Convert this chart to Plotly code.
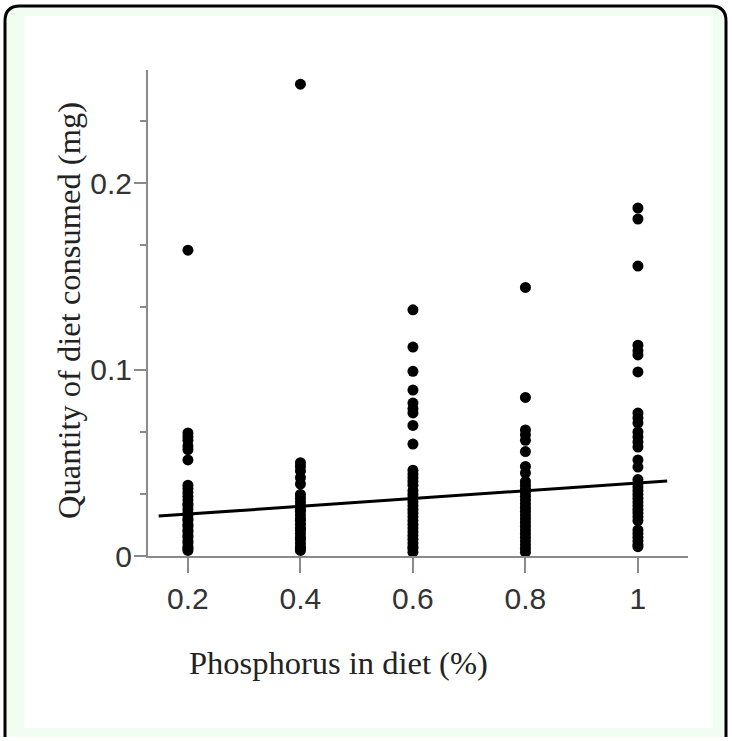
import plotly.graph_objects as go

# ---- data ----
x_levels = [0.2, 0.4, 0.6, 0.8, 1.0]

y_02 = [0.164, 0.066, 0.064, 0.062, 0.059, 0.057, 0.0515,
        0.038, 0.036, 0.034, 0.032, 0.030, 0.028, 0.027, 0.025, 0.023, 0.022,
        0.020, 0.019, 0.017, 0.016, 0.014, 0.013, 0.011, 0.010, 0.008, 0.007,
        0.005, 0.004, 0.003]
y_04 = [0.253, 0.050, 0.048, 0.0456, 0.042, 0.0386,
        0.033, 0.031, 0.029, 0.027, 0.025, 0.024, 0.022, 0.020, 0.019, 0.017,
        0.015, 0.014, 0.012, 0.010, 0.009, 0.007, 0.005, 0.004, 0.003]
y_06 = [0.132, 0.112, 0.099, 0.089, 0.082, 0.079, 0.0767, 0.070, 0.060,
        0.046, 0.044, 0.042, 0.040, 0.038, 0.035, 0.033, 0.031, 0.029, 0.027,
        0.025, 0.023, 0.021, 0.019, 0.017, 0.015, 0.013, 0.011, 0.009, 0.007,
        0.005, 0.004, 0.002]
y_08 = [0.144, 0.085, 0.0676, 0.065, 0.062, 0.056, 0.048, 0.0445,
        0.040, 0.038, 0.036, 0.034, 0.032, 0.030, 0.028, 0.026, 0.024, 0.022,
        0.020, 0.018, 0.016, 0.014, 0.012, 0.010, 0.008, 0.006, 0.004, 0.002]
y_10 = [0.1866, 0.1807, 0.1555, 0.113, 0.110, 0.1078, 0.0987, 0.0767, 0.074,
        0.0713, 0.0665, 0.0638, 0.0611, 0.0584, 0.0515, 0.0477,
        0.041, 0.039, 0.037, 0.035, 0.033, 0.031, 0.029, 0.027, 0.025, 0.023,
        0.021, 0.019, 0.014, 0.012, 0.010, 0.008, 0.006, 0.005]

fit_x = [0.148, 1.052]
fit_y = [0.0214, 0.0402]

x_ticks = [0.2, 0.4, 0.6, 0.8, 1.0]
x_ticklabels = ["0.2", "0.4", "0.6", "0.8", "1"]
y_ticks = [0, 0.1, 0.2]
y_ticklabels = ["0", "0.1", "0.2"]

x_title = "Phosphorus in diet (%)"
y_title = "Quantity of diet consumed (mg)"

# ---- layout geometry (pixels) ----
W, H = 732, 741
L, R, T, B = 148, 688, 70, 556
X_RANGE = [0.129, 1.089]
Y_RANGE = [0, (B - T) / 1865.0]


def px(x):
    return (x - L) / (R - L)


def py(y):
    return (B - y) / (B - T)


xs, ys = [], []
for xv, col in zip(x_levels, [y_02, y_04, y_06, y_08, y_10]):
    xs += [xv] * len(col)
    ys += col

fig = go.Figure()
fig.add_trace(go.Scatter(
    x=xs, y=ys, mode="markers",
    marker=dict(color="black", size=11, line=dict(width=0)),
    showlegend=False, hoverinfo="skip"))
fig.add_trace(go.Scatter(
    x=fit_x, y=fit_y, mode="lines",
    line=dict(color="black", width=3),
    showlegend=False, hoverinfo="skip"))

# frame: green band with black rounded border (bottom cut off)
r = 15
bl, bt, br, bb = 5, 6, 726, 737
green_path = (f"M {px(bl)},{py(bb)} L {px(bl)},{py(bt + r)} "
              f"Q {px(bl)},{py(bt)} {px(bl + r)},{py(bt)} "
              f"L {px(br - r)},{py(bt)} Q {px(br)},{py(bt)} {px(br)},{py(bt + r)} "
              f"L {px(br)},{py(bb)} Z")
border_path = (f"M {px(bl)},{py(bb)} L {px(bl)},{py(bt + r)} "
               f"Q {px(bl)},{py(bt)} {px(bl + r)},{py(bt)} "
               f"L {px(br - r)},{py(bt)} Q {px(br)},{py(bt)} {px(br)},{py(bt + r)} "
               f"L {px(br)},{py(bb)}")
shapes = [
    dict(type="path", xref="paper", yref="paper", path=green_path,
         fillcolor="#f0fdf0", line=dict(width=0), layer="below"),
    dict(type="rect", xref="paper", yref="paper",
         x0=px(24), x1=px(713), y0=py(728), y1=py(16),
         fillcolor="white", line=dict(width=0), layer="below"),
    dict(type="path", xref="paper", yref="paper", path=border_path,
         line=dict(color="black", width=3), layer="below"),
]

axis_color = "#8a8a8a"
tick_font = dict(family="Liberation Sans, Arial, sans-serif", size=30, color="#333333")
title_font = dict(family="Liberation Serif, Times New Roman, serif", size=32.5, color="#222222")

fig.update_layout(
    width=W, height=H,
    margin=dict(l=L, r=W - R, t=T, b=H - B, pad=0),
    paper_bgcolor="white", plot_bgcolor="rgba(0,0,0,0)",
    shapes=shapes,
    xaxis=dict(
        range=X_RANGE, showgrid=False, zeroline=False,
        showline=True, linecolor=axis_color, linewidth=2,
        tickmode="array", tickvals=x_ticks, ticktext=x_ticklabels,
        ticks="outside", ticklen=15, tickwidth=2, tickcolor=axis_color,
        tickfont=tick_font, ticklabelstandoff=0,
    ),
    yaxis=dict(
        range=Y_RANGE, showgrid=False, zeroline=False,
        showline=True, linecolor=axis_color, linewidth=2,
        tickmode="array", tickvals=y_ticks, ticktext=y_ticklabels,
        ticks="outside", ticklen=12, tickwidth=2, tickcolor=axis_color,
        tickfont=tick_font, ticklabelstandoff=-4,
        minor=dict(tickmode="linear", tick0=0, dtick=0.1 / 3,
                   ticks="outside", ticklen=6, tickwidth=2, tickcolor=axis_color,
                   showgrid=False),
    ),
    annotations=[
        dict(text=x_title, xref="paper", yref="paper",
             x=px(338), y=py(663), xanchor="center", yanchor="middle",
             showarrow=False, font=title_font),
        dict(text=y_title, xref="paper", yref="paper",
             x=px(69), y=py(311), xanchor="center", yanchor="middle",
             textangle=-90, showarrow=False, font=title_font),
    ],
)

fig.write_html("out.html",
               config={"displayModeBar": False},
               post_script="document.body.style.margin='0';document.body.style.padding='0';")
